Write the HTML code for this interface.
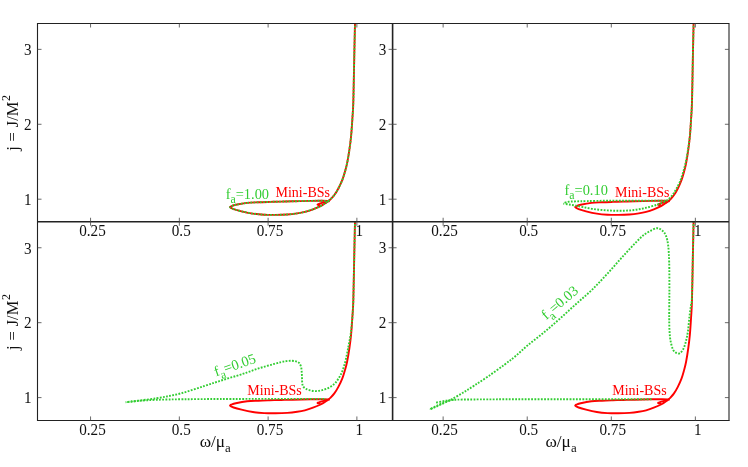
<!DOCTYPE html>
<html><head><meta charset="utf-8"><title>plot</title>
<style>html,body{margin:0;padding:0;background:#fff;}body{width:748px;height:467px;overflow:hidden;will-change:transform;font-family:"Liberation Serif",serif;}</style>
</head><body>
<svg width="748" height="467" viewBox="0 0 748 467" style="display:block;font-family:'Liberation Serif',serif">
<rect x="0" y="0" width="748" height="467" fill="#ffffff"/>
<defs>
<clipPath id="c00"><rect x="37.50" y="23.50" width="355.10" height="198.25"/></clipPath>
<clipPath id="c10"><rect x="392.60" y="23.50" width="336.30" height="198.25"/></clipPath>
<clipPath id="c01"><rect x="37.50" y="221.75" width="355.10" height="198.70"/></clipPath>
<clipPath id="c11"><rect x="392.60" y="221.75" width="336.30" height="198.70"/></clipPath>
</defs>
<g clip-path="url(#c00)" fill="none" stroke="#ff0000" stroke-width="1.90" stroke-linejoin="round" stroke-linecap="butt">
<path d="M355.02,22.60 C354.90,28.15 354.56,42.73 354.28,55.90 C354.00,69.07 353.65,91.13 353.33,101.60 C353.01,112.07 352.75,112.98 352.38,118.70 C352.01,124.42 351.61,130.75 351.11,135.90 C350.62,141.05 350.09,145.03 349.42,149.60 C348.76,154.17 347.84,159.63 347.10,163.30 C346.36,166.97 345.80,168.78 344.99,171.60 C344.18,174.42 343.37,177.35 342.24,180.20 C341.12,183.05 339.55,186.23 338.23,188.70 C336.91,191.17 335.65,193.20 334.33,195.00 C333.01,196.80 331.26,198.53 330.31,199.50 C329.36,200.47 329.36,200.23 328.62,200.80 C327.88,201.37 327.22,202.02 325.88,202.90 C324.54,203.78 322.75,205.03 320.60,206.10 C318.45,207.17 315.62,208.33 313.00,209.30 C310.37,210.27 307.51,211.22 304.87,211.90 C302.23,212.58 300.08,212.97 297.16,213.40 C294.24,213.83 290.96,214.25 287.34,214.50 C283.71,214.75 279.28,214.87 275.41,214.90 C271.53,214.93 267.87,214.92 264.11,214.70 C260.34,214.48 256.58,214.17 252.81,213.60 C249.04,213.03 244.71,212.05 241.51,211.30 C238.31,210.55 235.49,209.77 233.59,209.10 C231.69,208.43 230.42,207.80 230.11,207.30 C229.79,206.80 230.74,206.52 231.69,206.10 C232.64,205.68 233.24,205.33 235.81,204.80 C238.38,204.27 243.34,203.32 247.11,202.90 C250.87,202.48 254.64,202.47 258.41,202.30 C262.17,202.13 265.94,202.02 269.70,201.90 C273.47,201.78 277.22,201.70 281.00,201.60 C284.79,201.50 287.50,201.42 292.41,201.30 C297.32,201.18 305.57,200.98 310.46,200.90 C315.35,200.82 318.56,200.78 321.76,200.80 C324.96,200.82 328.36,200.97 329.68,201.00"/><path d="M329.68,201.00 C328.69,201.25 325.74,201.95 323.77,202.50 C321.80,203.05 318.73,203.88 317.85,204.30 C316.97,204.72 318.03,204.92 318.49,205.00 C318.94,205.08 320.25,204.83 320.60,204.80"/></g>
<g clip-path="url(#c10)" fill="none" stroke="#ff0000" stroke-width="1.90" stroke-linejoin="round" stroke-linecap="butt">
<path d="M693.60,22.60 C693.48,28.15 693.17,42.73 692.90,55.90 C692.63,69.07 692.30,91.13 692.00,101.60 C691.70,112.07 691.45,112.98 691.10,118.70 C690.75,124.42 690.37,130.75 689.90,135.90 C689.43,141.05 688.93,145.03 688.30,149.60 C687.67,154.17 686.80,159.63 686.10,163.30 C685.40,166.97 684.87,168.78 684.10,171.60 C683.33,174.42 682.57,177.35 681.50,180.20 C680.43,183.05 678.95,186.23 677.70,188.70 C676.45,191.17 675.25,193.20 674.00,195.00 C672.75,196.80 671.10,198.53 670.20,199.50 C669.30,200.47 669.30,200.23 668.60,200.80 C667.90,201.37 667.27,202.02 666.00,202.90 C664.73,203.78 663.03,205.03 661.00,206.10 C658.97,207.17 656.28,208.33 653.80,209.30 C651.32,210.27 648.60,211.22 646.10,211.90 C643.60,212.58 641.57,212.97 638.80,213.40 C636.03,213.83 632.93,214.25 629.50,214.50 C626.07,214.75 621.87,214.87 618.20,214.90 C614.53,214.93 611.07,214.92 607.50,214.70 C603.93,214.48 600.37,214.17 596.80,213.60 C593.23,213.03 589.13,212.05 586.10,211.30 C583.07,210.55 580.40,209.77 578.60,209.10 C576.80,208.43 575.60,207.80 575.30,207.30 C575.00,206.80 575.90,206.52 576.80,206.10 C577.70,205.68 578.27,205.33 580.70,204.80 C583.13,204.27 587.83,203.32 591.40,202.90 C594.97,202.48 598.53,202.47 602.10,202.30 C605.67,202.13 609.23,202.02 612.80,201.90 C616.37,201.78 619.92,201.70 623.50,201.60 C627.08,201.50 629.65,201.42 634.30,201.30 C638.95,201.18 646.77,200.98 651.40,200.90 C656.03,200.82 659.07,200.78 662.10,200.80 C665.13,200.82 668.35,200.97 669.60,201.00"/><path d="M669.60,201.00 C668.67,201.25 665.87,201.95 664.00,202.50 C662.13,203.05 659.23,203.88 658.40,204.30 C657.57,204.72 658.57,204.92 659.00,205.00 C659.43,205.08 660.67,204.83 661.00,204.80"/></g>
<g clip-path="url(#c01)" fill="none" stroke="#ff0000" stroke-width="1.90" stroke-linejoin="round" stroke-linecap="butt">
<path d="M355.02,221.00 C354.90,226.55 354.56,241.13 354.28,254.30 C354.00,267.47 353.65,289.53 353.33,300.00 C353.01,310.47 352.75,311.38 352.38,317.10 C352.01,322.82 351.61,329.15 351.11,334.30 C350.62,339.45 350.09,343.43 349.42,348.00 C348.76,352.57 347.84,358.03 347.10,361.70 C346.36,365.37 345.80,367.18 344.99,370.00 C344.18,372.82 343.37,375.75 342.24,378.60 C341.12,381.45 339.55,384.63 338.23,387.10 C336.91,389.57 335.65,391.60 334.33,393.40 C333.01,395.20 331.26,396.93 330.31,397.90 C329.36,398.87 329.36,398.63 328.62,399.20 C327.88,399.77 327.22,400.42 325.88,401.30 C324.54,402.18 322.75,403.43 320.60,404.50 C318.45,405.57 315.62,406.73 313.00,407.70 C310.37,408.67 307.51,409.62 304.87,410.30 C302.23,410.98 300.08,411.37 297.16,411.80 C294.24,412.23 290.96,412.65 287.34,412.90 C283.71,413.15 279.28,413.27 275.41,413.30 C271.53,413.33 267.87,413.32 264.11,413.10 C260.34,412.88 256.58,412.57 252.81,412.00 C249.04,411.43 244.71,410.45 241.51,409.70 C238.31,408.95 235.49,408.17 233.59,407.50 C231.69,406.83 230.42,406.20 230.11,405.70 C229.79,405.20 230.74,404.92 231.69,404.50 C232.64,404.08 233.24,403.73 235.81,403.20 C238.38,402.67 243.34,401.72 247.11,401.30 C250.87,400.88 254.64,400.87 258.41,400.70 C262.17,400.53 265.94,400.42 269.70,400.30 C273.47,400.18 277.22,400.10 281.00,400.00 C284.79,399.90 287.50,399.82 292.41,399.70 C297.32,399.58 305.57,399.38 310.46,399.30 C315.35,399.22 318.56,399.18 321.76,399.20 C324.96,399.22 328.36,399.37 329.68,399.40"/><path d="M329.68,399.40 C328.69,399.65 325.74,400.35 323.77,400.90 C321.80,401.45 318.73,402.28 317.85,402.70 C316.97,403.12 318.03,403.32 318.49,403.40 C318.94,403.48 320.25,403.23 320.60,403.20"/></g>
<g clip-path="url(#c11)" fill="none" stroke="#ff0000" stroke-width="1.90" stroke-linejoin="round" stroke-linecap="butt">
<path d="M693.60,221.00 C693.48,226.55 693.17,241.13 692.90,254.30 C692.63,267.47 692.30,289.53 692.00,300.00 C691.70,310.47 691.45,311.38 691.10,317.10 C690.75,322.82 690.37,329.15 689.90,334.30 C689.43,339.45 688.93,343.43 688.30,348.00 C687.67,352.57 686.80,358.03 686.10,361.70 C685.40,365.37 684.87,367.18 684.10,370.00 C683.33,372.82 682.57,375.75 681.50,378.60 C680.43,381.45 678.95,384.63 677.70,387.10 C676.45,389.57 675.25,391.60 674.00,393.40 C672.75,395.20 671.10,396.93 670.20,397.90 C669.30,398.87 669.30,398.63 668.60,399.20 C667.90,399.77 667.27,400.42 666.00,401.30 C664.73,402.18 663.03,403.43 661.00,404.50 C658.97,405.57 656.28,406.73 653.80,407.70 C651.32,408.67 648.60,409.62 646.10,410.30 C643.60,410.98 641.57,411.37 638.80,411.80 C636.03,412.23 632.93,412.65 629.50,412.90 C626.07,413.15 621.87,413.27 618.20,413.30 C614.53,413.33 611.07,413.32 607.50,413.10 C603.93,412.88 600.37,412.57 596.80,412.00 C593.23,411.43 589.13,410.45 586.10,409.70 C583.07,408.95 580.40,408.17 578.60,407.50 C576.80,406.83 575.60,406.20 575.30,405.70 C575.00,405.20 575.90,404.92 576.80,404.50 C577.70,404.08 578.27,403.73 580.70,403.20 C583.13,402.67 587.83,401.72 591.40,401.30 C594.97,400.88 598.53,400.87 602.10,400.70 C605.67,400.53 609.23,400.42 612.80,400.30 C616.37,400.18 619.92,400.10 623.50,400.00 C627.08,399.90 629.65,399.82 634.30,399.70 C638.95,399.58 646.77,399.38 651.40,399.30 C656.03,399.22 659.07,399.18 662.10,399.20 C665.13,399.22 668.35,399.37 669.60,399.40"/><path d="M669.60,399.40 C668.67,399.65 665.87,400.35 664.00,400.90 C662.13,401.45 659.23,402.28 658.40,402.70 C657.57,403.12 658.57,403.32 659.00,403.40 C659.43,403.48 660.67,403.23 661.00,403.20"/></g>
<g clip-path="url(#c00)" fill="none" stroke="#32cd32" stroke-width="1.90" stroke-dasharray="1.8 1.4" stroke-linejoin="round">
<path d="M355.02,22.60 C354.90,28.15 354.56,42.73 354.28,55.90 C354.00,69.07 353.65,91.13 353.33,101.60 C353.01,112.07 352.75,112.98 352.38,118.70 C352.01,124.42 351.61,130.75 351.11,135.90 C350.62,141.05 350.09,145.03 349.42,149.60 C348.76,154.17 347.84,159.63 347.10,163.30 C346.36,166.97 345.80,168.78 344.99,171.60 C344.18,174.42 343.37,177.35 342.24,180.20 C341.12,183.05 339.55,186.23 338.23,188.70 C336.91,191.17 335.65,193.20 334.33,195.00 C333.01,196.80 331.26,198.53 330.31,199.50 C329.36,200.47 329.36,200.23 328.62,200.80 C327.88,201.37 327.22,202.02 325.88,202.90 C324.54,203.78 322.75,205.03 320.60,206.10 C318.45,207.17 315.62,208.33 313.00,209.30 C310.37,210.27 307.51,211.22 304.87,211.90 C302.23,212.58 300.08,212.97 297.16,213.40 C294.24,213.83 290.96,214.25 287.34,214.50 C283.71,214.75 279.28,214.87 275.41,214.90 C271.53,214.93 267.87,214.92 264.11,214.70 C260.34,214.48 256.58,214.17 252.81,213.60 C249.04,213.03 244.71,212.05 241.51,211.30 C238.31,210.55 235.49,209.77 233.59,209.10 C231.69,208.43 230.42,207.80 230.11,207.30 C229.79,206.80 230.74,206.52 231.69,206.10 C232.64,205.68 233.24,205.33 235.81,204.80 C238.38,204.27 243.34,203.32 247.11,202.90 C250.87,202.48 254.64,202.47 258.41,202.30 C262.17,202.13 265.94,202.02 269.70,201.90 C273.47,201.78 277.22,201.70 281.00,201.60 C284.79,201.50 287.50,201.42 292.41,201.30 C297.32,201.18 305.57,200.98 310.46,200.90 C315.35,200.82 318.56,200.78 321.76,200.80 C324.96,200.82 328.36,200.97 329.68,201.00"/>
</g>
<g clip-path="url(#c10)" fill="none" stroke="#32cd32" stroke-width="1.90" stroke-dasharray="1.8 1.4" stroke-linejoin="round">
<path d="M693.60,22.60 C693.48,28.15 693.17,42.73 692.90,55.90 C692.63,69.07 692.30,91.13 692.00,101.60 C691.70,112.07 691.45,112.98 691.10,118.70 C690.75,124.42 690.43,130.60 689.90,135.90 C689.37,141.20 688.60,146.07 687.90,150.50 C687.20,154.93 686.53,158.75 685.70,162.50 C684.87,166.25 683.88,169.75 682.90,173.00 C681.92,176.25 680.95,179.25 679.80,182.00 C678.65,184.75 677.18,187.38 676.00,189.50 C674.82,191.62 673.88,193.13 672.70,194.70 C671.52,196.27 670.45,197.65 668.90,198.90 C667.35,200.15 665.37,201.23 663.40,202.20 C661.43,203.17 659.93,203.78 657.10,204.70 C654.27,205.62 649.97,206.85 646.40,207.70 C642.83,208.55 639.27,209.30 635.70,209.80 C632.13,210.30 628.63,210.55 625.00,210.70 C621.37,210.85 617.53,210.80 613.90,210.70 C610.27,210.60 606.77,210.40 603.20,210.10 C599.63,209.80 595.87,209.40 592.50,208.90 C589.13,208.40 585.87,207.67 583.00,207.10 C580.13,206.53 577.65,205.93 575.30,205.50 C572.95,205.07 570.88,204.82 568.90,204.50 C566.92,204.18 564.32,203.75 563.40,203.60"/>
<path d="M563.40,203.60 C563.77,203.40 564.68,202.72 565.60,202.40 C566.52,202.08 567.28,201.87 568.90,201.70 C570.52,201.53 572.27,201.50 575.30,201.40 C578.33,201.30 581.57,201.22 587.10,201.10 C592.63,200.98 600.52,200.77 608.50,200.70 C616.48,200.63 625.12,200.72 635.00,200.70 C644.88,200.68 662.33,200.62 667.80,200.60" stroke-dashoffset="1.6"/>
</g>
<g clip-path="url(#c01)" fill="none" stroke="#32cd32" stroke-width="1.90" stroke-dasharray="1.8 1.4" stroke-linejoin="round">
<path d="M355.02,221.00 C354.90,226.55 354.56,241.13 354.28,254.30 C354.00,267.47 353.65,289.53 353.33,300.00 C353.01,310.47 352.82,311.43 352.38,317.10 C351.94,322.77 351.31,329.35 350.70,334.00 C350.09,338.65 349.20,342.27 348.70,345.00 C348.20,347.73 348.12,348.25 347.70,350.40 C347.28,352.55 346.77,355.42 346.20,357.90 C345.63,360.38 344.98,362.98 344.30,365.30 C343.62,367.62 342.92,369.83 342.10,371.80 C341.28,373.77 340.47,375.32 339.40,377.10 C338.33,378.88 337.03,380.98 335.70,382.50 C334.37,384.02 333.00,385.13 331.40,386.20 C329.80,387.27 327.88,388.18 326.10,388.90 C324.32,389.62 322.50,390.13 320.70,390.50 C318.90,390.87 317.08,391.13 315.30,391.10 C313.52,391.07 311.60,390.70 310.00,390.30 C308.40,389.90 306.87,389.38 305.70,388.70 C304.53,388.02 303.58,387.23 303.00,386.20 C302.42,385.17 302.37,384.02 302.20,382.50 C302.03,380.98 302.08,378.88 302.00,377.10 C301.92,375.32 301.85,373.48 301.70,371.80 C301.55,370.12 301.50,368.43 301.10,367.00 C300.70,365.57 300.13,364.13 299.30,363.20 C298.47,362.27 297.35,361.80 296.10,361.40 C294.85,361.00 293.42,360.85 291.80,360.80 C290.18,360.75 288.18,360.88 286.40,361.10 C284.62,361.32 283.12,361.63 281.10,362.10 C279.08,362.57 276.87,363.20 274.30,363.90 C271.73,364.60 268.57,365.47 265.70,366.30 C262.83,367.13 259.95,367.97 257.10,368.90 C254.25,369.83 251.45,370.92 248.60,371.90 C245.75,372.88 244.30,373.45 240.00,374.80 C235.70,376.15 228.73,378.13 222.80,380.00 C216.87,381.87 211.48,383.75 204.40,386.00 C197.32,388.25 188.33,391.45 180.30,393.50 C172.27,395.55 165.30,396.85 156.20,398.30 C147.10,399.75 130.78,401.55 125.70,402.20"/>
<path d="M125.70,402.20 C130.78,401.80 140.48,400.33 156.20,399.80 C171.92,399.27 191.68,399.15 220.00,399.00 C248.32,398.85 308.42,398.92 326.10,398.90" stroke-dashoffset="1.6"/>
</g>
<g clip-path="url(#c11)" fill="none" stroke="#32cd32" stroke-width="1.90" stroke-dasharray="1.8 1.4" stroke-linejoin="round">
<path d="M693.60,221.00 C693.48,226.55 693.18,241.47 692.90,254.30 C692.62,267.13 692.22,289.53 691.90,298.00 C691.58,306.47 691.42,301.92 691.00,305.10 C690.58,308.28 689.90,312.82 689.40,317.10 C688.90,321.38 688.57,326.80 688.00,330.80 C687.43,334.80 686.77,338.10 686.00,341.10 C685.23,344.10 684.40,346.80 683.40,348.80 C682.40,350.80 681.13,352.38 680.00,353.10 C678.87,353.82 677.75,353.67 676.60,353.10 C675.45,352.53 674.10,351.70 673.10,349.70 C672.10,347.70 671.20,344.25 670.60,341.10 C670.00,337.95 669.73,334.80 669.50,330.80 C669.27,326.80 669.23,322.23 669.20,317.10 C669.17,311.97 669.27,304.77 669.30,300.00 C669.33,295.23 669.42,294.70 669.40,288.50 C669.38,282.30 669.40,269.93 669.20,262.80 C669.00,255.67 668.75,250.23 668.20,245.70 C667.65,241.17 666.90,238.12 665.90,235.60 C664.90,233.08 663.70,231.83 662.20,230.60 C660.70,229.37 659.20,227.97 656.90,228.20 C654.60,228.43 651.17,230.37 648.40,232.00 C645.63,233.63 644.32,234.20 640.30,238.00 C636.28,241.80 629.65,249.00 624.30,254.80 C618.95,260.60 613.55,267.00 608.20,272.80 C602.85,278.60 597.50,284.45 592.20,289.60 C586.90,294.75 581.72,298.92 576.40,303.70 C571.08,308.48 565.65,313.57 560.30,318.30 C554.95,323.03 549.65,327.67 544.30,332.10 C538.95,336.53 533.03,340.87 528.20,344.90 C523.37,348.93 519.27,353.00 515.30,356.30 C511.33,359.60 508.88,361.38 504.40,364.70 C499.92,368.02 493.38,372.75 488.40,376.20 C483.42,379.65 478.68,382.68 474.50,385.40 C470.32,388.12 467.03,390.23 463.30,392.50 C459.57,394.77 455.30,397.25 452.10,399.00 C448.90,400.75 446.78,401.72 444.10,403.00 C441.42,404.28 438.42,405.62 436.00,406.70 C433.58,407.78 430.67,409.03 429.60,409.50"/>
<path d="M429.60,409.50 C430.75,408.90 434.00,407.12 436.50,405.90 C439.00,404.68 442.27,403.12 444.60,402.20 C446.93,401.28 448.98,400.80 450.50,400.40 C452.02,400.00 448.78,399.97 453.70,399.80 C458.62,399.63 462.28,399.50 480.00,399.40 C497.72,399.30 531.33,399.23 560.00,399.20 C588.67,399.17 636.67,399.20 652.00,399.20" stroke-dashoffset="1.6"/>
<path d="M453.70,399.80 C452.77,399.90 449.97,400.13 448.10,400.40 C446.23,400.67 444.68,401.00 442.50,401.40 C440.32,401.80 436.25,402.57 435.00,402.80"/>
</g>
<g stroke="#222222" fill="none" shape-rendering="auto">
<line x1="37.50" y1="23.00" x2="37.50" y2="420.95" stroke-width="1.1"/>
<line x1="37.00" y1="23.50" x2="729.40" y2="23.50" stroke-width="1.1"/>
<line x1="392.60" y1="23.50" x2="392.60" y2="420.45" stroke-width="1.6"/>
<line x1="37.50" y1="221.75" x2="728.90" y2="221.75" stroke-width="1.6"/>
<line x1="729.00" y1="23.50" x2="729.00" y2="420.95" stroke-width="1.05" stroke="#1a1a1a"/>
<line x1="37.00" y1="420.45" x2="729.40" y2="420.45" stroke-width="1.15"/>
</g>
<g stroke="#444" stroke-width="0.8" fill="none">
<line x1="90.56" y1="23.50" x2="90.56" y2="27.50"/>
<line x1="90.56" y1="217.75" x2="90.56" y2="225.75"/>
<line x1="90.56" y1="416.45" x2="90.56" y2="420.45"/>
<line x1="179.34" y1="23.50" x2="179.34" y2="27.50"/>
<line x1="179.34" y1="217.75" x2="179.34" y2="225.75"/>
<line x1="179.34" y1="416.45" x2="179.34" y2="420.45"/>
<line x1="268.12" y1="23.50" x2="268.12" y2="27.50"/>
<line x1="268.12" y1="217.75" x2="268.12" y2="225.75"/>
<line x1="268.12" y1="416.45" x2="268.12" y2="420.45"/>
<line x1="356.89" y1="23.50" x2="356.89" y2="27.50"/>
<line x1="356.89" y1="217.75" x2="356.89" y2="225.75"/>
<line x1="356.89" y1="416.45" x2="356.89" y2="420.45"/>
<line x1="443.14" y1="23.50" x2="443.14" y2="27.50"/>
<line x1="443.14" y1="217.75" x2="443.14" y2="225.75"/>
<line x1="443.14" y1="416.45" x2="443.14" y2="420.45"/>
<line x1="527.22" y1="23.50" x2="527.22" y2="27.50"/>
<line x1="527.22" y1="217.75" x2="527.22" y2="225.75"/>
<line x1="527.22" y1="416.45" x2="527.22" y2="420.45"/>
<line x1="611.30" y1="23.50" x2="611.30" y2="27.50"/>
<line x1="611.30" y1="217.75" x2="611.30" y2="225.75"/>
<line x1="611.30" y1="416.45" x2="611.30" y2="420.45"/>
<line x1="695.37" y1="23.50" x2="695.37" y2="27.50"/>
<line x1="695.37" y1="217.75" x2="695.37" y2="225.75"/>
<line x1="695.37" y1="416.45" x2="695.37" y2="420.45"/>
<line x1="37.50" y1="199.20" x2="41.50" y2="199.20"/>
<line x1="388.60" y1="199.20" x2="396.60" y2="199.20"/>
<line x1="724.90" y1="199.20" x2="728.90" y2="199.20"/>
<line x1="37.50" y1="124.28" x2="41.50" y2="124.28"/>
<line x1="388.60" y1="124.28" x2="396.60" y2="124.28"/>
<line x1="724.90" y1="124.28" x2="728.90" y2="124.28"/>
<line x1="37.50" y1="49.36" x2="41.50" y2="49.36"/>
<line x1="388.60" y1="49.36" x2="396.60" y2="49.36"/>
<line x1="724.90" y1="49.36" x2="728.90" y2="49.36"/>
<line x1="37.50" y1="397.60" x2="41.50" y2="397.60"/>
<line x1="388.60" y1="397.60" x2="396.60" y2="397.60"/>
<line x1="724.90" y1="397.60" x2="728.90" y2="397.60"/>
<line x1="37.50" y1="322.68" x2="41.50" y2="322.68"/>
<line x1="388.60" y1="322.68" x2="396.60" y2="322.68"/>
<line x1="724.90" y1="322.68" x2="728.90" y2="322.68"/>
<line x1="37.50" y1="247.76" x2="41.50" y2="247.76"/>
<line x1="388.60" y1="247.76" x2="396.60" y2="247.76"/>
<line x1="724.90" y1="247.76" x2="728.90" y2="247.76"/>
</g>
<g font-size="15.6" fill="#111" text-anchor="middle">
<text transform="translate(92.47,235.90) scale(0.975,1.080)">0.25</text>
<text transform="translate(92.47,434.80) scale(0.975,1.080)">0.25</text>
<text transform="translate(181.24,235.90) scale(0.975,1.080)">0.5</text>
<text transform="translate(181.24,434.80) scale(0.975,1.080)">0.5</text>
<text transform="translate(270.01,235.90) scale(0.975,1.080)">0.75</text>
<text transform="translate(270.01,434.80) scale(0.975,1.080)">0.75</text>
<text transform="translate(359.29,235.90) scale(0.975,1.080)">1</text>
<text transform="translate(359.29,434.80) scale(0.975,1.080)">1</text>
<text transform="translate(444.54,235.90) scale(0.975,1.080)">0.25</text>
<text transform="translate(444.54,434.80) scale(0.975,1.080)">0.25</text>
<text transform="translate(528.62,235.90) scale(0.975,1.080)">0.5</text>
<text transform="translate(528.62,434.80) scale(0.975,1.080)">0.5</text>
<text transform="translate(612.70,235.90) scale(0.975,1.080)">0.75</text>
<text transform="translate(612.70,434.80) scale(0.975,1.080)">0.75</text>
<text transform="translate(697.77,235.90) scale(0.975,1.080)">1</text>
<text transform="translate(697.77,434.80) scale(0.975,1.080)">1</text>
</g>
<g font-size="15.6" fill="#111" text-anchor="end">
<text transform="translate(31.60,204.95) scale(0.975,1.080)">1</text>
<text transform="translate(386.40,204.80) scale(0.975,1.080)">1</text>
<text transform="translate(31.60,130.03) scale(0.975,1.080)">2</text>
<text transform="translate(386.40,129.88) scale(0.975,1.080)">2</text>
<text transform="translate(31.60,55.11) scale(0.975,1.080)">3</text>
<text transform="translate(386.40,54.96) scale(0.975,1.080)">3</text>
<text transform="translate(31.60,403.35) scale(0.975,1.080)">1</text>
<text transform="translate(386.40,403.20) scale(0.975,1.080)">1</text>
<text transform="translate(31.60,328.43) scale(0.975,1.080)">2</text>
<text transform="translate(386.40,328.28) scale(0.975,1.080)">2</text>
<text transform="translate(31.60,253.51) scale(0.975,1.080)">3</text>
<text transform="translate(386.40,253.36) scale(0.975,1.080)">3</text>
</g>
<text transform="translate(17.5,122.9) rotate(-90)" font-size="16.5" fill="#111" text-anchor="middle" word-spacing="0.7">j = J/M<tspan font-size="12" dy="-7.4" dx="0.6">2</tspan></text>
<text transform="translate(17.5,322.0) rotate(-90)" font-size="16.5" fill="#111" text-anchor="middle" word-spacing="0.7">j = J/M<tspan font-size="12" dy="-7.4" dx="0.6">2</tspan></text>
<text x="215.2" y="446.9" font-size="17.3" fill="#111" text-anchor="middle">ω/μ<tspan font-size="12.8" dy="4.8">a</tspan></text>
<text x="561.0" y="446.9" font-size="17.3" fill="#111" text-anchor="middle">ω/μ<tspan font-size="12.8" dy="4.8">a</tspan></text>
<text transform="translate(225.7,198.6) rotate(0.0)" font-size="14.4" fill="#32cd32">f<tspan font-size="11.8" dy="4.3">a</tspan><tspan dy="-4.3">=1.00</tspan></text>
<text x="275.5" y="197.2" font-size="14.0" fill="#ff0000">Mini-BSs</text>
<text transform="translate(564.5,194.6) rotate(0.0)" font-size="14.4" fill="#32cd32">f<tspan font-size="11.8" dy="4.3">a</tspan><tspan dy="-4.3">=0.10</tspan></text>
<text x="615.0" y="196.9" font-size="14.0" fill="#ff0000">Mini-BSs</text>
<text transform="translate(216.0,376.6) rotate(-19.3)" font-size="14.4" fill="#32cd32">f<tspan font-size="11.8" dy="4.3">a</tspan><tspan dy="-4.3">=0.05</tspan></text>
<text x="247.3" y="394.9" font-size="14.0" fill="#ff0000">Mini-BSs</text>
<text transform="translate(546.3,320.3) rotate(-40.5)" font-size="14.4" fill="#32cd32">f<tspan font-size="11.8" dy="4.3">a</tspan><tspan dy="-4.3">=0.03</tspan></text>
<text x="612.2" y="395.0" font-size="14.0" fill="#ff0000">Mini-BSs</text>
</svg>
</body></html>
